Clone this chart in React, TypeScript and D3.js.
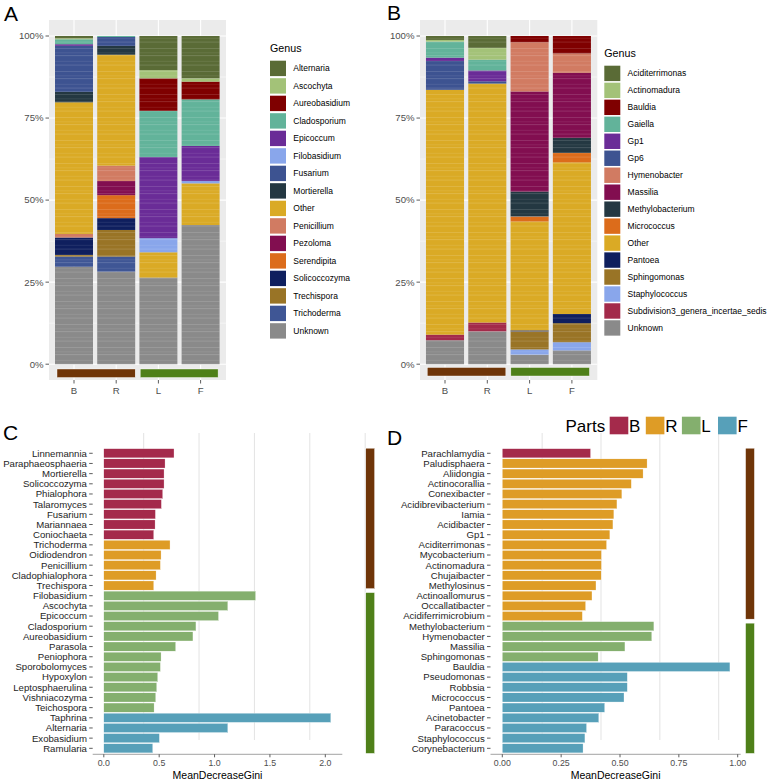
import * as d3 from "d3";

const FONT = "'Liberation Sans', Arial, Helvetica, sans-serif";

// ---- panel A / B : relative abundance (%) ----
const samples = ["B", "R", "L", "F"];

const fungiGenus = ["Alternaria", "Ascochyta", "Aureobasidium", "Cladosporium", "Epicoccum", "Filobasidium", "Fusarium", "Mortierella", "Other", "Penicillium", "Pezoloma", "Serendipita", "Solicoccozyma", "Trechispora", "Trichoderma", "Unknown"];
const fungiColors = ["#5A6B36", "#A3C278", "#7F0000", "#62B39A", "#6A2C97", "#89A6EB", "#3D5391", "#243842", "#DAAA25", "#D17B62", "#820E50", "#DC6C1B", "#0F1F5E", "#997426", "#3F5695", "#8A8A8A"];
const fungiB = [0.7, 0.3, 0, 1.5, 0.5, 0, 14.0, 3.2, 40.1, 1.1, 0, 0, 5.3, 0.5, 3.1, 29.7];
const fungiR = [0, 0, 0, 0.3, 0, 0, 2.7, 2.7, 33.8, 4.7, 4.3, 7.0, 3.6, 8.1, 4.6, 28.2];
const fungiL = [10.4, 2.5, 9.9, 14.1, 24.7, 4.3, 0, 0, 7.7, 0, 0, 0, 0, 0, 0, 26.4];
const fungiF = [12.9, 1.0, 5.4, 14.2, 10.7, 0.7, 0, 0, 12.7, 0, 0, 0, 0, 0, 0, 42.4];

const bactGenus = ["Aciditerrimonas", "Actinomadura", "Bauldia", "Gaiella", "Gp1", "Gp6", "Hymenobacter", "Massilia", "Methylobacterium", "Micrococcus", "Other", "Pantoea", "Sphingomonas", "Staphylococcus", "Subdivision3_genera_incertae_sedis", "Unknown"];
const bactColors = ["#5A6B36", "#A3C278", "#7F0000", "#62B39A", "#6A2C97", "#3D5391", "#D17B62", "#820E50", "#243842", "#DC6C1B", "#DAAA25", "#0F1F5E", "#997426", "#89A6EB", "#A32A4A", "#8A8A8A"];
const bactB = [1.2, 0.5, 0, 4.9, 1.0, 8.8, 0, 0, 0, 0, 74.6, 0, 0, 0, 1.7, 7.3];
const bactR = [3.6, 3.6, 0, 3.3, 3.3, 0.7, 0, 0, 0, 0, 72.8, 0, 0, 0, 2.7, 10.0];
const bactL = [0, 0, 1.9, 0, 0, 0, 15.0, 30.5, 7.6, 1.5, 33.2, 0.3, 5.5, 1.6, 0, 2.9];
const bactF = [0, 0, 5.3, 0, 0, 0, 5.9, 19.8, 4.6, 2.9, 46.2, 2.8, 5.8, 2.5, 0, 4.2];

const pctTicks = [0, 25, 50, 75, 100];
const pctMinor = [12.5, 37.5, 62.5, 87.5];

// ---- panel C / D : MeanDecreaseGini ----
const partNames = ["B", "R", "L", "F"];
const partColors = ["#A42A4B", "#DE9C26", "#84AF6E", "#57A0B9"];

const fungiImpNames = ["Linnemannia", "Paraphaeosphaeria", "Mortierella", "Solicoccozyma", "Phialophora", "Talaromyces", "Fusarium", "Mariannaea", "Coniochaeta", "Trichoderma", "Oidiodendron", "Penicillium", "Cladophialophora", "Trechispora", "Filobasidium", "Ascochyta", "Epicoccum", "Cladosporium", "Aureobasidium", "Parasola", "Peniophora", "Sporobolomyces", "Hypoxylon", "Leptosphaerulina", "Vishniacozyma", "Teichospora", "Taphrina", "Alternaria", "Exobasidium", "Ramularia"];
const fungiImpValues = [0.634, 0.553, 0.544, 0.544, 0.532, 0.52, 0.466, 0.463, 0.451, 0.598, 0.517, 0.511, 0.472, 0.451, 1.371, 1.12, 1.036, 0.832, 0.805, 0.649, 0.517, 0.511, 0.487, 0.478, 0.469, 0.454, 2.05, 1.12, 0.502, 0.442];
const fungiImpParts = ["B", "B", "B", "B", "B", "B", "B", "B", "B", "R", "R", "R", "R", "R", "L", "L", "L", "L", "L", "L", "L", "L", "L", "L", "L", "L", "F", "F", "F", "F"];
const fungiImpTicks = [0, 0.5, 1, 1.5, 2];
const fungiImpGrid = [0.5, 1, 1.5, 2, 2.5];

const bactImpNames = ["Parachlamydia", "Paludisphaera", "Aliidongia", "Actinocorallia", "Conexibacter", "Acidibrevibacterium", "Iamia", "Acidibacter", "Gp1", "Aciditerrimonas", "Mycobacterium", "Actinomadura", "Chujaibacter", "Methylosinus", "Actinoallomurus", "Occallatibacter", "Acidiferrimicrobium", "Methylobacterium", "Hymenobacter", "Massilia", "Sphingomonas", "Bauldia", "Pseudomonas", "Robbsia", "Micrococcus", "Pantoea", "Acinetobacter", "Paracoccus", "Staphylococcus", "Corynebacterium"];
const bactImpValues = [0.375, 0.615, 0.598, 0.548, 0.508, 0.487, 0.474, 0.47, 0.457, 0.443, 0.421, 0.421, 0.42, 0.398, 0.381, 0.354, 0.34, 0.644, 0.635, 0.521, 0.407, 0.967, 0.531, 0.531, 0.517, 0.435, 0.41, 0.358, 0.351, 0.343];
const bactImpParts = ["B", "R", "R", "R", "R", "R", "R", "R", "R", "R", "R", "R", "R", "R", "R", "R", "R", "L", "L", "L", "L", "F", "F", "F", "F", "F", "F", "F", "F", "F"];
const bactImpTicks = [0, 0.25, 0.5, 0.75, 1];
const bactImpGrid = [0.25, 0.5, 0.75, 1];

const BROWN = "#6F3508";
const GREEN = "#4F8019";

function StackPanel(props: any) {
  const { bgLeft, bgRight, bandRange, genus, colors, rows, legendX, legendTitleY, legendY, legendStep, strips, stripY } = props;
  const x = d3.scaleBand().domain(samples).range(bandRange).paddingInner(0.1).paddingOuter(0.05);
  const y = d3.scaleLinear().domain([0, 100]).range([364.2, 36]);
  const top = 20, bottom = 380;
  const table = samples.map((s, i) => {
    const o: any = { sample: s };
    genus.forEach((g: string, j: number) => (o[g] = rows[i][j]));
    return o;
  });
  const stack = d3.stack().keys([...genus].reverse());
  const series = stack(table);
  const colorOf = d3.scaleOrdinal<string, string>().domain(genus).range(colors);
  const bw = x.bandwidth();
  return (
    <g>
      <rect x={bgLeft} y={top} width={bgRight - bgLeft} height={bottom - top} fill="#EBEBEB" />
      {pctMinor.map((t) => (
        <line key={"m" + t} x1={bgLeft} x2={bgRight} y1={y(t)} y2={y(t)} stroke="#fff" strokeWidth={0.5} />
      ))}
      {pctTicks.map((t) => (
        <line key={"g" + t} x1={bgLeft} x2={bgRight} y1={y(t)} y2={y(t)} stroke="#fff" strokeWidth={1.1} />
      ))}
      {samples.map((s) => (
        <line key={"v" + s} x1={x(s)! + bw / 2} x2={x(s)! + bw / 2} y1={top} y2={bottom} stroke="#fff" strokeWidth={1.1} />
      ))}
      {series.map((ser: any) =>
        ser.map((d: any) =>
          d[1] - d[0] > 0 ? (
            <rect key={ser.key + d.data.sample} x={x(d.data.sample)} y={y(d[1])} width={bw}
              height={y(d[0]) - y(d[1])} fill={colorOf(ser.key)} />
          ) : null
        )
      )}
      {samples.map((s) => (
        <rect key={"t" + s} x={x(s)} y={y(100)} width={bw} height={y(0) - y(100)} fill="url(#otuLines)" />
      ))}
      {strips.map((st: any) => (
        <rect key={st.color} x={x(st.from)! + st.padL} y={stripY} width={x(st.to)! + bw - st.padR - (x(st.from)! + st.padL)}
          height={8.5} fill={st.color} stroke="#fff" strokeWidth={0.4} />
      ))}
      {pctTicks.map((t) => (
        <g key={"yt" + t}>
          <line x1={bgLeft - 3.5} x2={bgLeft} y1={y(t)} y2={y(t)} stroke="#333" strokeWidth={0.8} />
          <text x={bgLeft - 5.5} y={y(t)} dy="0.35em" textAnchor="end" fontSize={9.6} fill="#4D4D4D" fontFamily={FONT}>{t + "%"}</text>
        </g>
      ))}
      {samples.map((s) => (
        <g key={"xt" + s}>
          <line x1={x(s)! + bw / 2} x2={x(s)! + bw / 2} y1={bottom} y2={bottom + 3.5} stroke="#333" strokeWidth={0.8} />
          <text x={x(s)! + bw / 2} y={bottom + 13.5} textAnchor="middle" fontSize={9.6} fill="#4D4D4D" fontFamily={FONT}>{s}</text>
        </g>
      ))}
      <text x={legendX} y={legendTitleY} dy="0.35em" fontSize={10.7} fill="#000" fontFamily={FONT}>Genus</text>
      {genus.map((g: string, i: number) => (
        <g key={"lg" + g} transform={`translate(${legendX},${legendY + i * legendStep})`}>
          <rect x={0} y={0} width={16} height={15.4} fill={colorOf(g)} />
          <text x={23.3} y={7.7} dy="0.35em" fontSize={8.5} fill="#000" fontFamily={FONT}>{g}</text>
        </g>
      ))}
    </g>
  );
}

function ImportancePanel(props: any) {
  const { names, values, parts, maxX, xRange, ticks, fmt, grid, gridShift, axisLeft, axisRight, stripX } = props;
  const y = d3.scaleBand().domain(names).range([448.2, 753.4]).paddingInner(0.1).paddingOuter(0.05);
  const x = d3.scaleLinear().domain([0, maxX]).range(xRange);
  const fill = d3.scaleOrdinal<string, string>().domain(partNames).range(partColors);
  const bh = y.bandwidth();
  const step = y.step();
  const brRows = names.filter((_: string, i: number) => parts[i] === "B" || parts[i] === "R");
  const lfRows = names.filter((_: string, i: number) => parts[i] === "L" || parts[i] === "F");
  const axisY = 754.3;
  return (
    <g>
      {grid.map((g: number) => (
        <line key={"gr" + g} x1={x(g) + gridShift} x2={x(g) + gridShift} y1={433} y2={740} stroke="#E3E3E3" strokeWidth={1} />
      ))}
      {names.map((n: string, i: number) => (
        <rect key={n} x={x(0)} y={y(n)} width={x(values[i]) - x(0)} height={bh} fill={fill(parts[i])} stroke="#fff" strokeWidth={0.3} />
      ))}
      {names.map((n: string) => (
        <g key={"lab" + n}>
          <line x1={axisLeft - 3.5} x2={axisLeft} y1={y(n)! + bh / 2} y2={y(n)! + bh / 2} stroke="#333" strokeWidth={0.8} />
          <text x={axisLeft - 5.8} y={y(n)! + bh / 2} dy="0.35em" textAnchor="end" fontSize={9.6} fill="#1E1E1E" fontFamily={FONT}>{n}</text>
        </g>
      ))}
      <line x1={axisLeft} x2={axisRight} y1={axisY} y2={axisY} stroke="#8C8C8C" strokeWidth={0.8} />
      {ticks.map((t: number) => (
        <g key={"xt" + t}>
          <line x1={x(t)} x2={x(t)} y1={axisY} y2={axisY + 3} stroke="#333" strokeWidth={0.8} />
          <text x={x(t)} y={axisY + 11.5} textAnchor="middle" fontSize={8.8} fill="#4D4D4D" fontFamily={FONT}>{fmt(t)}</text>
        </g>
      ))}
      <text x={(axisLeft + axisRight) / 2} y={778.5} textAnchor="middle" fontSize={10.5} fill="#000" fontFamily={FONT}>MeanDecreaseGini</text>
      <rect x={stripX} y={y(brRows[0])! - 0.5} width={8.8} height={y(brRows[brRows.length - 1])! + bh - y(brRows[0])! - 1}
        fill={BROWN} stroke="#fff" strokeWidth={0.4} />
      <rect x={stripX} y={y(lfRows[0])! - step * 0.05 + 2} width={8.8} height={y(lfRows[lfRows.length - 1])! + bh - y(lfRows[0])! - 1}
        fill={GREEN} stroke="#fff" strokeWidth={0.4} />
    </g>
  );
}

export default function App() {
  return (
    <div style={{ position: "absolute", left: 0, top: 0 }}>
      <svg width={767} height={780} style={{ display: "block", background: "#fff" }}>
        <defs>
          <pattern id="otuLines" width={10} height={23} patternUnits="userSpaceOnUse">
            <line x1={0} x2={10} y1={2.5} y2={2.5} stroke="#fff" strokeOpacity={0.22} strokeWidth={0.6} />
            <line x1={0} x2={10} y1={6.8} y2={6.8} stroke="#fff" strokeOpacity={0.15} strokeWidth={0.5} />
            <line x1={0} x2={10} y1={9.6} y2={9.6} stroke="#fff" strokeOpacity={0.25} strokeWidth={0.6} />
            <line x1={0} x2={10} y1={15.4} y2={15.4} stroke="#fff" strokeOpacity={0.15} strokeWidth={0.5} />
            <line x1={0} x2={10} y1={19.1} y2={19.1} stroke="#fff" strokeOpacity={0.22} strokeWidth={0.6} />
          </pattern>
        </defs>

        <text x={4} y={20.7} fontSize={21} fontFamily={FONT} fill="#000">A</text>
        <StackPanel bgLeft={49} bgRight={226} bandRange={[52.9, 221.7]} genus={fungiGenus} colors={fungiColors}
          rows={[fungiB, fungiR, fungiL, fungiF]} legendX={270} legendTitleY={48.3} legendY={60.7} legendStep={17.5}
          stripY={369} strips={[{ from: "B", to: "R", color: BROWN, padL: 2, padR: 0 }, { from: "L", to: "F", color: GREEN, padL: 0.8, padR: 1.5 }]} />

        <text x={387} y={19.5} fontSize={21} fontFamily={FONT} fill="#000">B</text>
        <StackPanel bgLeft={420} bgRight={597.3} bandRange={[423.85, 593.05]} genus={bactGenus} colors={bactColors}
          rows={[bactB, bactR, bactL, bactF]} legendX={604.3} legendTitleY={53.3} legendY={65.7} legendStep={16.97}
          stripY={367.5} strips={[{ from: "B", to: "R", color: BROWN, padL: 1.3, padR: 0.5 }, { from: "L", to: "F", color: GREEN, padL: 0.3, padR: 1.5 }]} />

        <text x={3} y={440} fontSize={21} fontFamily={FONT} fill="#000">C</text>
        <ImportancePanel names={fungiImpNames} values={fungiImpValues} parts={fungiImpParts} maxX={2}
          xRange={[103.8, 325.3]} ticks={fungiImpTicks} fmt={d3.format(".1f")} grid={fungiImpGrid} gridShift={-15.5}
          axisLeft={92.7} axisRight={342.3} stripX={365.8} />

        <text x={387} y={445} fontSize={21} fontFamily={FONT} fill="#000">D</text>
        <ImportancePanel names={bactImpNames} values={bactImpValues} parts={bactImpParts} maxX={1}
          xRange={[502.3, 737.7]} ticks={bactImpTicks} fmt={d3.format(".2f")} grid={bactImpGrid} gridShift={-19}
          axisLeft={490.5} axisRight={740.7} stripX={745.6} />

        <text x={565.5} y={431.5} fontSize={17} fontFamily={FONT} fill="#000">Parts</text>
        {partNames.map((p, i) => (
          <g key={"pk" + p} transform={`translate(${609.7 + i * 36.1},416.7)`}>
            <rect x={0} y={0} width={18.6} height={17.6} fill={partColors[i]} />
            <text x={19.4} y={14.8} fontSize={17} fontFamily={FONT} fill="#000">{p}</text>
          </g>
        ))}
      </svg>
    </div>
  );
}
